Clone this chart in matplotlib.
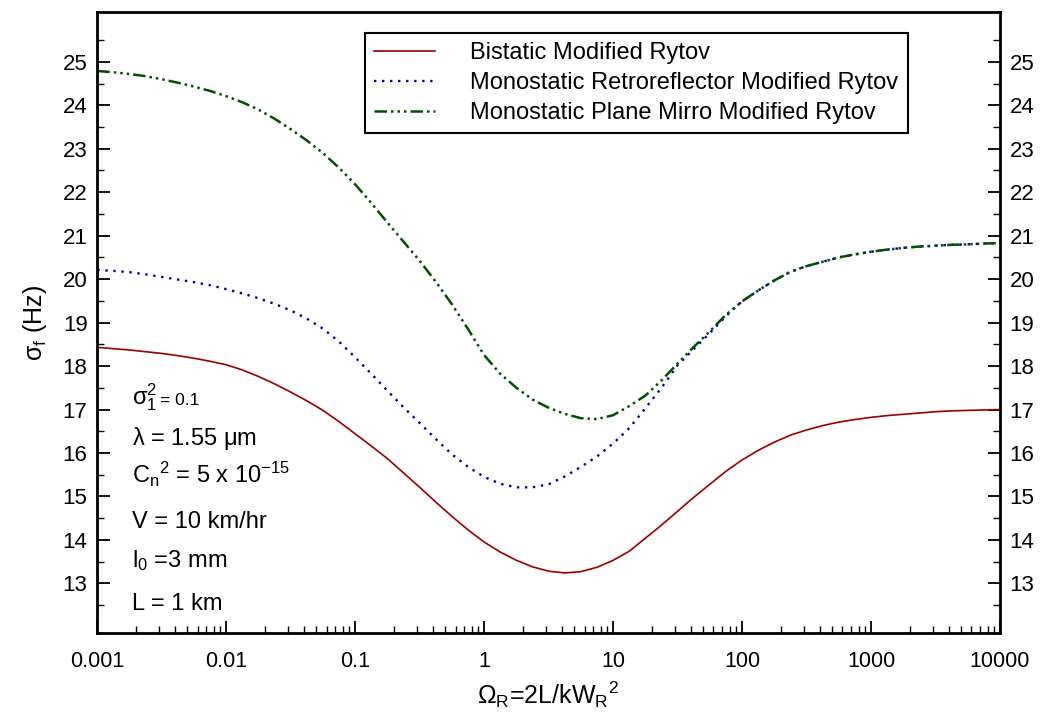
"""
Frequency fluctuation sigma_f versus Omega_R for three link geometries
"""

import numpy as np
import matplotlib
matplotlib.use('Agg')
import matplotlib.pyplot as plt

plt.rcParams['font.family'] = ['Liberation Sans', 'DejaVu Sans']
plt.rcParams['mathtext.fontset'] = 'custom'
plt.rcParams['mathtext.rm'] = 'Liberation Sans'
plt.rcParams['mathtext.it'] = 'Liberation Sans'

# Data: log10(Omega_R), every eighth of a decade
log_omega = np.array([
    -3.0, -2.875, -2.75, -2.625, -2.5, -2.375, -2.25, -2.125,
    -2.0, -1.875, -1.75, -1.625, -1.5, -1.375, -1.25, -1.125,
    -1.0, -0.875, -0.75, -0.625, -0.5, -0.375, -0.25, -0.125,
    0.0, 0.125, 0.25, 0.375, 0.5, 0.625, 0.75, 0.875,
    1.0, 1.125, 1.25, 1.375, 1.5, 1.625, 1.75, 1.875,
    2.0, 2.125, 2.25, 2.375, 2.5, 2.625, 2.75, 2.875,
    3.0, 3.125, 3.25, 3.375, 3.5, 3.625, 3.75, 3.875, 4.0])
omega_r = 10.0 ** log_omega

bistatic = [18.43, 18.40, 18.37, 18.33, 18.29, 18.24, 18.18, 18.11,
            18.03, 17.91, 17.76, 17.59, 17.40, 17.20, 16.98, 16.72,
            16.44, 16.16, 15.87, 15.54, 15.21, 14.87, 14.54, 14.23,
            13.95, 13.72, 13.53, 13.38, 13.28, 13.24, 13.27, 13.37,
            13.53, 13.74, 14.04, 14.34, 14.66, 14.98, 15.28, 15.58,
            15.84, 16.06, 16.25, 16.41, 16.53, 16.63, 16.71, 16.77,
            16.82, 16.86, 16.89, 16.92, 16.95, 16.97, 16.98, 16.99, 17.00]

retro = [20.21, 20.19, 20.16, 20.11, 20.05, 19.99, 19.93, 19.86,
         19.77, 19.67, 19.56, 19.43, 19.28, 19.09, 18.86, 18.56,
         18.20, 17.82, 17.43, 17.05, 16.69, 16.32, 15.97, 15.68,
         15.45, 15.29, 15.21, 15.21, 15.28, 15.46, 15.68, 15.92,
         16.22, 16.57, 17.03, 17.50, 18.02, 18.39, 18.76, 19.15,
         19.49, 19.74, 19.97, 20.17, 20.30, 20.40, 20.50, 20.57,
         20.63, 20.68, 20.72, 20.75, 20.77, 20.79, 20.80, 20.82, 20.83]

plane_mirror = [24.79, 24.76, 24.72, 24.67, 24.60, 24.52, 24.43, 24.33,
                24.21, 24.07, 23.90, 23.69, 23.45, 23.19, 22.90, 22.56,
                22.18, 21.75, 21.30, 20.86, 20.42, 19.94, 19.42, 18.85,
                18.25, 17.82, 17.50, 17.23, 17.04, 16.90, 16.80, 16.78,
                16.87, 17.08, 17.32, 17.67, 18.06, 18.44, 18.80, 19.18,
                19.49, 19.74, 19.97, 20.17, 20.30, 20.40, 20.50, 20.57,
                20.63, 20.68, 20.72, 20.75, 20.77, 20.79, 20.80, 20.82,
                20.83]

labels = ['Bistatic Modified Rytov',
          'Monostatic Retroreflector Modified Rytov',
          'Monostatic Plane Mirro Modified Rytov']

x_ticks = [0.001, 0.01, 0.1, 1, 10, 100, 1000, 10000]
x_tick_labels = ['0.001', '0.01', '0.1', '1', '10', '100', '1000', '10000']
y_ticks = list(range(13, 26))

# Figure
fig = plt.figure(figsize=(10.42, 7.23), dpi=100)
ax = fig.add_axes([0.0934, 0.124, 0.8663, 0.859])

ax.plot(omega_r, bistatic, color='#990000', lw=1.2, label=labels[0])
ax.plot(omega_r, retro, color='#000099', lw=1.7, ls=(0, (1, 2.4)),
        label=labels[1])
ax.plot(omega_r, plane_mirror, color='#005000', lw=1.8,
        ls=(0, (5, 1.6, 1, 1.6, 1, 1.6, 1, 1.6)), label=labels[2])

ax.set_xscale('log')
ax.set_xlim(0.001, 10000)
ax.set_ylim(11.85, 26.14)
ax.set_xticks(x_ticks)
ax.set_xticklabels(x_tick_labels)
ax.set_yticks(y_ticks)
ax.set_yticks(np.arange(12.5, 26.1, 1.0), minor=True)

ax.tick_params(axis='both', which='both', direction='in', top=False,
               right=True, labelright=True)
ax.tick_params(axis='y', which='major', length=9, width=1.3, pad=7,
               labelsize=16)
ax.tick_params(axis='y', which='minor', length=5, width=1.0)
ax.tick_params(axis='x', which='major', length=9, width=1.3, pad=13,
               labelsize=15.5)
ax.tick_params(axis='x', which='minor', length=5, width=1.0)
for spine in ax.spines.values():
    spine.set_linewidth(2.0)

ax.set_xlabel(r'$\mathregular{Ω_R}$=2L/kW$\mathregular{_R{}^2}$',
              fontsize=18, labelpad=5)
ax.set_ylabel(r'$\mathregular{σ_f}$ (Hz)', fontsize=18, labelpad=10)

# Legend
leg = ax.legend(loc='upper center', bbox_to_anchor=(0.597, 0.967),
                borderaxespad=0, fontsize=17, frameon=True, fancybox=False,
                edgecolor='black', framealpha=1, handlelength=2.55,
                handletextpad=1.5, labelspacing=0.33, borderpad=0.4)
leg.get_frame().set_linewidth(1.5)

# Link parameters
tx = 0.0384
ax.text(tx, 0.368, r'$\mathregular{σ_1^2}$', transform=ax.transAxes,
        fontsize=17, va='baseline')
ax.text(0.069, 0.368, '= 0.1', transform=ax.transAxes, fontsize=12.5,
        va='baseline')
ax.text(tx, 0.304, r'$\mathregular{λ}$ = 1.55 $\mathregular{μ}$m',
        transform=ax.transAxes, fontsize=17, va='baseline')
ax.text(tx, 0.242, r'C$\mathregular{_n{}^2}$ = 5 x 10$\mathregular{^{-15}}$',
        transform=ax.transAxes, fontsize=17, va='baseline')
ax.text(tx, 0.170, 'V = 10 km/hr', transform=ax.transAxes, fontsize=17,
        va='baseline')
ax.text(tx, 0.107, r'l$\mathregular{_0}$ =3 mm', transform=ax.transAxes,
        fontsize=17, va='baseline')
ax.text(tx, 0.038, 'L = 1 km', transform=ax.transAxes, fontsize=17,
        va='baseline')

fig.savefig('out.png', dpi=100)
